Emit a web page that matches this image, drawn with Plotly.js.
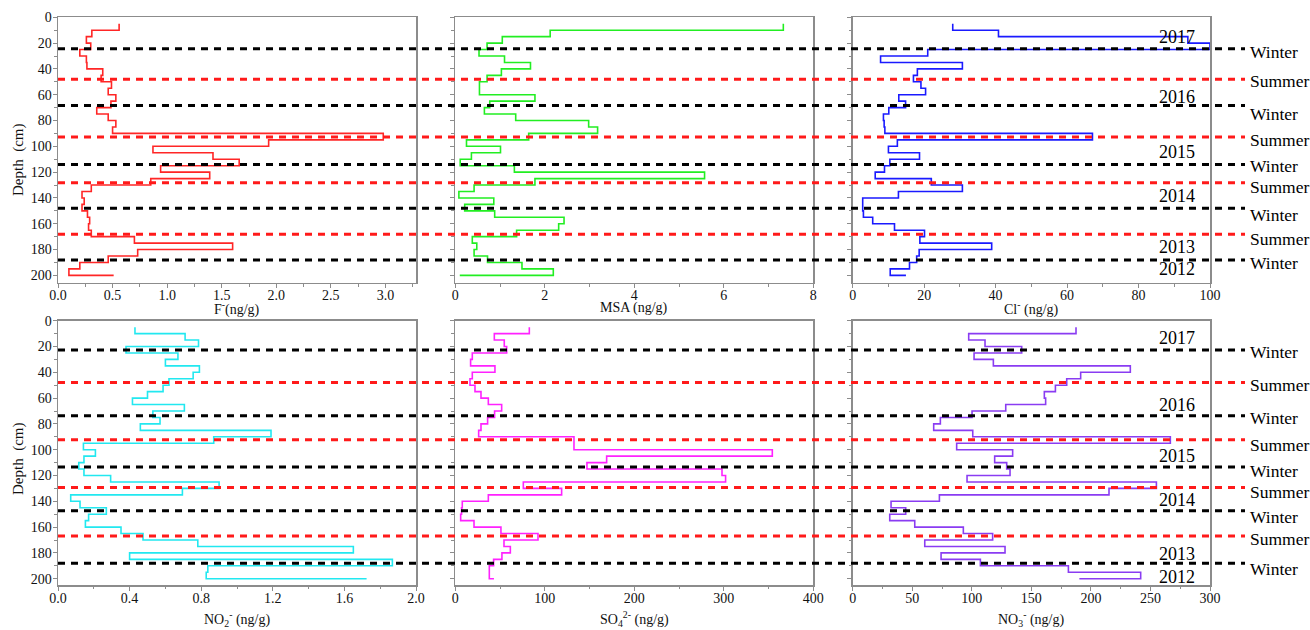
<!DOCTYPE html>
<html>
<head>
<meta charset="utf-8">
<script src="https://cdn.plot.ly/plotly-3.0.1.min.js"></script>
<style>
html,body{margin:0;padding:0;background:#fff;}
#chart{width:1310px;height:630px;}
</style>
</head>
<body>
<div id="chart"></div>
<script>
// Sample depths (cm), top of each 5 cm sample
const depth = [5,10,15,20,25,30,35,40,45,50,55,60,65,70,75,80,85,90,95,100,
               105,110,115,120,125,130,135,140,145,150,155,160,165,170,175,180,185,190,195,200];

// Ion concentrations (ng/g)
const F = [0.56,0.31,0.26,0.30,0.20,0.26,0.265,0.41,0.395,0.49,
           0.46,0.53,0.485,0.355,0.46,0.53,0.50,2.98,1.93,0.87,
           1.42,1.66,0.94,1.39,0.85,0.305,0.22,0.24,0.22,0.27,
           0.29,0.28,0.305,0.70,1.60,0.73,0.46,0.20,0.10,0.51];
const MSA = [7.33,2.12,1.05,0.71,0.53,1.10,1.68,1.03,0.71,0.54,
             0.54,1.78,0.77,0.65,1.35,2.98,3.18,1.64,0.25,1.01,
             0.36,0.11,1.32,5.57,1.78,0.42,0.08,0.86,0.21,0.88,
             2.43,2.31,1.37,0.38,0.48,0.42,0.72,1.49,2.19,0.10];
const Cl = [28.0,40.8,93.8,100,21.0,7.8,30.7,18.1,17.0,19.1,
            20.4,12.9,14.8,10.1,8.6,8.8,9.0,67.1,12.5,10.0,
            18.7,10.4,8.9,6.3,22.0,30.7,12.8,2.8,2.8,3.0,
            5.6,11.7,20.1,18.8,38.9,18.6,17.9,15.9,10.5,14.9];
const NO2 = [0.43,0.71,0.785,0.38,0.67,0.60,0.79,0.755,0.62,0.587,
             0.50,0.416,0.706,0.53,0.57,0.46,1.19,0.87,0.142,0.209,
             0.145,0.116,0.145,0.294,0.90,0.695,0.071,0.123,0.27,0.171,
             0.153,0.352,0.475,0.781,1.65,0.40,1.868,0.837,0.828,1.724];
const SO4 = [82.7,43.6,54.7,57.4,19.0,17.1,44.3,19.0,16.4,22.0,
             28.7,36.9,51.8,43.9,36.1,28.7,26.1,132.6,132.6,354.2,
             169.1,147.1,298,302,76,118.8,36.9,7.8,7.0,6.0,
             20.9,51.0,92.4,54.4,61.5,52.1,42.8,38.0,38.0,43.2];
const NO3 = [187.5,97.4,111.1,141.9,101.9,118.1,233.1,191.4,179.7,170.2,
             160.9,162,128.5,100.2,73.6,68.0,100.8,266.7,87.3,134.3,
             119.2,129.3,132.1,96.0,255.0,215.2,72.8,32.2,44.5,31.1,
             52.1,92.9,117.5,60.5,127.9,74.2,107.2,181.1,241.8,190.3];

// Axis titles
const xTitles = ['F<sup>-</sup>(ng/g)','MSA (ng/g)','Cl<sup>-</sup> (ng/g)',
                 'NO<sub>2</sub><sup>-</sup> (ng/g)','SO<sub>4</sub><sup>2-</sup> (ng/g)','NO<sub>3</sub><sup>-</sup> (ng/g)'];
const yTitle = 'Depth  (cm)';

// Season boundaries (depth, cm) and their type
const topBounds    = [24.4,48.0,68.4,92.8,114.0,128.2,148.0,168.2,188.2];
const bottomBounds = [22.7,48.0,73.6,92.2,113.4,129.2,147.3,166.9,188.1];
const boundType    = ['Winter','Summer','Winter','Summer','Winter','Summer','Winter','Summer','Winter'];

// Label positions (depth)
const topSeasonY    = [26.7,49.1,75.0,95.1,115.0,131.3,153.3,172.1,190.7];
const bottomSeasonY = [24.5,49.8,75.7,96.4,116.5,132.6,151.9,169.2,192.7];
const years         = ['2017','2016','2015','2014','2013','2012'];
const topYearY      = [15.0,62.0,104.4,138.3,178.3,195.3];
const bottomYearY   = [13.2,65.3,104.9,139.0,181.1,198.4];

const series = [F, MSA, Cl, NO2, SO4, NO3];
const colors = ['#ff2626','#22ee22','#1a1aff','#22e8f0','#ff22ff','#8a3cf2'];
const xRanges = [[0,3.28],[0,8],[0,100],[0,2],[0,400],[0,300]];
const dticks = [0.5,2,20,0.4,100,50];
const formats = ['.1f','','','.1f','',''];

const W = 1310, H = 630;
const colPx = [[58,416],[455.3,813.3],[852.7,1210]];
const rowPx = [[17.3,282.7],[320.7,585.3]];
const yRanges = [[205.7,0],[205.1,0]];
const xTitleY = [308, 619];
const font = "Liberation Serif";
const txt = '#111';

const traces = [];
const layout = {
  width: W, height: H,
  margin: {l:0,r:0,t:0,b:0},
  paper_bgcolor: '#fff', plot_bgcolor: '#fff',
  showlegend: false,
  font: {family: font, color: txt, size: 14},
  shapes: [], annotations: []
};

for (let i = 0; i < 6; i++) {
  const r = Math.floor(i/3), c = i % 3, n = i + 1;
  traces.push({
    type: 'scatter', mode: 'lines',
    x: series[i], y: depth,
    xaxis: 'x' + n, yaxis: 'y' + n,
    line: {color: colors[i], width: 1.6, shape: 'vh'},
    hoverinfo: 'x+y'
  });
  layout['xaxis' + n] = {
    domain: [colPx[c][0]/W, colPx[c][1]/W],
    range: xRanges[i], anchor: 'y' + n,
    showline: true, mirror: true, linecolor: '#8c8c8c', linewidth: 1.5,
    ticks: 'outside', ticklen: 4, tickwidth: 1, tickcolor: '#8c8c8c',
    tick0: 0, dtick: dticks[i], tickformat: formats[i],
    minor: {dtick: dticks[i]/2, ticks: 'outside', ticklen: 2.5, tickcolor: '#8c8c8c', showgrid: false},
    showgrid: false, zeroline: false, automargin: false,
    ticklabelstandoff: -5,
    tickfont: {family: font, size: 14, color: txt}
  };
  layout.annotations.push({
    xref: 'paper', yref: 'paper',
    x: (colPx[c][0] + colPx[c][1]) / 2 / W, y: 1 - xTitleY[r]/H,
    xanchor: 'center', yanchor: 'middle', showarrow: false,
    text: xTitles[i], font: {family: font, size: 14, color: txt}
  });
  layout['yaxis' + n] = {
    domain: [1 - rowPx[r][1]/H, 1 - rowPx[r][0]/H],
    range: yRanges[r], anchor: 'x' + n,
    showline: true, mirror: true, linecolor: '#8c8c8c', linewidth: 1.5,
    ticks: 'outside', ticklen: 4, tickwidth: 1, tickcolor: '#8c8c8c',
    tick0: 0, dtick: 20,
    minor: {dtick: 10, ticks: 'outside', ticklen: 2.5, tickcolor: '#8c8c8c', showgrid: false},
    showgrid: false, zeroline: false, automargin: false,
    showticklabels: c === 0,
    ticklabelstandoff: -2,
    tickfont: {family: font, size: 14, color: txt}
  };
}

// Depth titles
[160, 459].forEach(py => {
  layout.annotations.push({
    xref: 'paper', yref: 'paper', x: 18/W, y: 1 - py/H,
    xanchor: 'center', yanchor: 'middle', showarrow: false, textangle: -90,
    text: yTitle, font: {family: font, size: 15, color: txt}
  });
});

const lineX0 = 58/W, lineX1 = 1245/W;
const bounds = [topBounds, bottomBounds];
const seasonY = [topSeasonY, bottomSeasonY];
const yearY = [topYearY, bottomYearY];
const rowRef = ['y', 'y4'];
for (let r = 0; r < 2; r++) {
  bounds[r].forEach((d, k) => {
    layout.shapes.push({
      type: 'line', xref: 'paper', yref: rowRef[r],
      x0: lineX0, x1: lineX1, y0: d, y1: d,
      line: {color: boundType[k] === 'Winter' ? '#000' : '#ff1a1a', width: 3, dash: '7px,6px'},
      layer: 'above'
    });
    layout.annotations.push({
      xref: 'paper', yref: rowRef[r], x: 1248/W, y: seasonY[r][k],
      xanchor: 'left', yanchor: 'middle', showarrow: false,
      text: boundType[k], font: {family: font, size: 17.5, color: '#000'}
    });
  });
  years.forEach((yr, k) => {
    layout.annotations.push({
      xref: 'paper', yref: rowRef[r], x: 1177/W, y: yearY[r][k],
      xanchor: 'center', yanchor: 'middle', showarrow: false,
      text: yr, font: {family: font, size: 18, color: '#000'}
    });
  });
}

Plotly.newPlot('chart', traces, layout, {displayModeBar: false, staticPlot: true});
</script>
</body>
</html>
